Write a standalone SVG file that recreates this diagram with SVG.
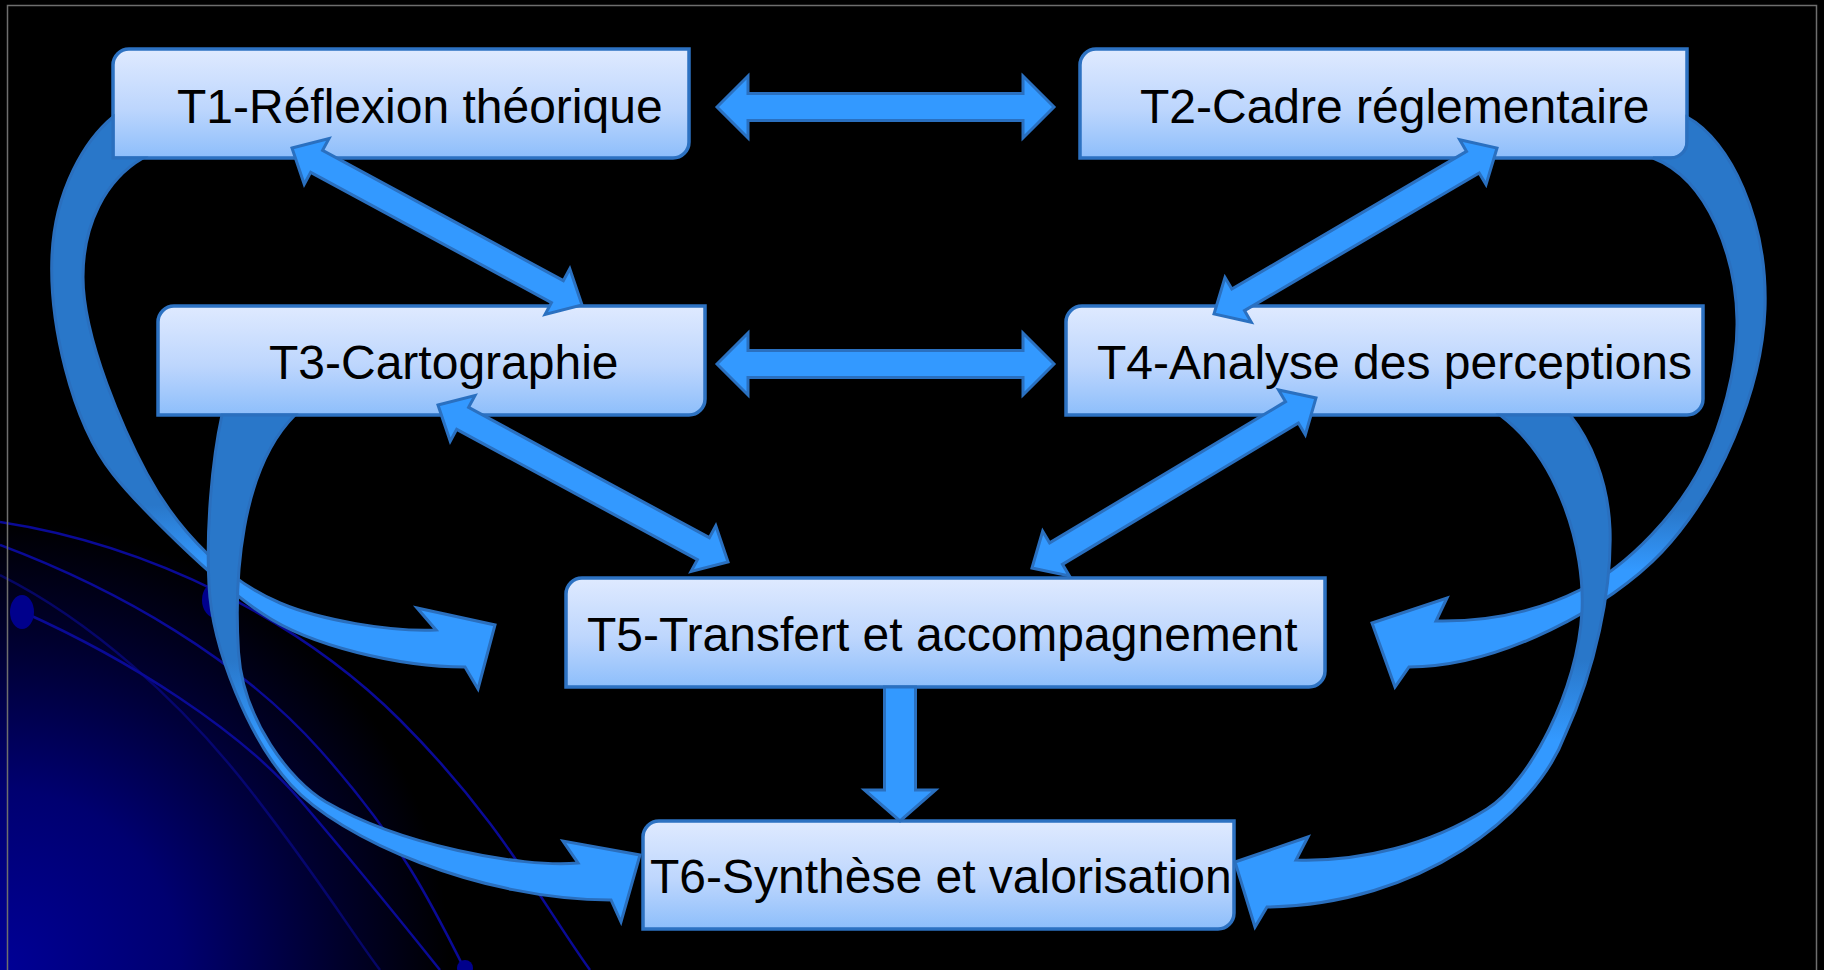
<svg xmlns="http://www.w3.org/2000/svg" width="1824" height="970" viewBox="0 0 1824 970">
  <defs>
    <linearGradient id="boxFill" x1="0" y1="0" x2="0" y2="1">
      <stop offset="0" stop-color="#dfeaff"/>
      <stop offset="0.55" stop-color="#bdd6fd"/>
      <stop offset="1" stop-color="#8dbefb"/>
    </linearGradient>
    <radialGradient id="glow" gradientUnits="userSpaceOnUse" cx="0" cy="970" r="450">
      <stop offset="0" stop-color="#000096"/>
      <stop offset="0.4" stop-color="#000070"/>
      <stop offset="0.75" stop-color="#00002c"/>
      <stop offset="1" stop-color="#000000"/>
    </radialGradient>
    <linearGradient id="gA" gradientUnits="userSpaceOnUse" x1="0" y1="505" x2="0" y2="565">
      <stop offset="0" stop-color="#2977c9"/>
      <stop offset="1" stop-color="#3399ff"/>
    </linearGradient>
    <linearGradient id="gB" gradientUnits="userSpaceOnUse" x1="0" y1="660" x2="0" y2="740">
      <stop offset="0" stop-color="#2977c9"/>
      <stop offset="1" stop-color="#3399ff"/>
    </linearGradient>
    <linearGradient id="gC" gradientUnits="userSpaceOnUse" x1="0" y1="510" x2="0" y2="570">
      <stop offset="0" stop-color="#2977c9"/>
      <stop offset="1" stop-color="#3399ff"/>
    </linearGradient>
    <linearGradient id="gD" gradientUnits="userSpaceOnUse" x1="0" y1="660" x2="0" y2="740">
      <stop offset="0" stop-color="#2977c9"/>
      <stop offset="1" stop-color="#3399ff"/>
    </linearGradient>
  </defs>
  <style>
    .box { fill: url(#boxFill); stroke: #2d72c2; stroke-width: 3.5; }
    .lbl { font-family: "Liberation Sans", Arial, sans-serif; font-size: 48px; fill: #000000; }
    .arr { fill: #3399ff; stroke: #2a70c0; stroke-width: 3; stroke-linejoin: miter; }
    .curve { stroke: #2a6fbe; stroke-width: 3; stroke-linejoin: miter; }
    .deco { fill: none; stroke: #0a0a96; stroke-width: 2.5; }
    .dot { fill: #00008c; }
  </style>

  <g id="background">
    <rect x="0" y="0" width="1824" height="970" fill="#000000"/>
    <rect x="0" y="500" width="480" height="470" fill="url(#glow)"/>
    <path class="deco" d="M0,522 C150,545 300,620 400,720 S540,900 590,970"/>
    <path class="deco" d="M0,545 C120,590 240,660 320,750 S430,900 465,970"/>
    <path class="deco" d="M23,612 C130,660 240,730 300,800 S400,920 440,970"/>
    <path class="deco" stroke-opacity="0.6" d="M0,575 C90,620 180,700 250,790 S350,930 380,970"/>
    <ellipse class="dot" cx="22" cy="612" rx="12" ry="17"/>
    <ellipse class="dot" cx="216" cy="600" rx="14" ry="18"/>
    <circle class="dot" cx="465" cy="968" r="8"/>
    <rect x="7.5" y="5.5" width="1809" height="1000" fill="none" stroke="#6e6e6e" stroke-width="1.5"/>
  </g>

  <g id="T1">
    <path class="box" d="M129,49 H689 V142 A16,16 0 0 1 673,158 H113 V65 A16,16 0 0 1 129,49 Z"/>
    <text class="lbl" x="177" y="123">T1-Réflexion théorique</text>
  </g>
  <g id="T2">
    <path class="box" d="M1096,49 H1687 V142 A16,16 0 0 1 1671,158 H1080 V65 A16,16 0 0 1 1096,49 Z"/>
    <text class="lbl" x="1140" y="123">T2-Cadre réglementaire</text>
  </g>
  <g id="T3">
    <path class="box" d="M174,306 H705 V399 A16,16 0 0 1 689,415 H158 V322 A16,16 0 0 1 174,306 Z"/>
    <text class="lbl" x="269" y="379">T3-Cartographie</text>
  </g>
  <g id="T4">
    <path class="box" d="M1082,306 H1703 V399 A16,16 0 0 1 1687,415 H1066 V322 A16,16 0 0 1 1082,306 Z"/>
    <text class="lbl" x="1097" y="379">T4-Analyse des perceptions</text>
  </g>
  <g id="T5">
    <path class="box" d="M582,578 H1325 V671 A16,16 0 0 1 1309,687 H566 V594 A16,16 0 0 1 582,578 Z"/>
    <text class="lbl" x="587" y="651">T5-Transfert et accompagnement</text>
  </g>
  <g id="T6">
    <path class="box" d="M659,821 H1234 V913 A16,16 0 0 1 1218,929 H643 V837 A16,16 0 0 1 659,821 Z"/>
    <text class="lbl" x="650" y="893">T6-Synthèse et valorisation</text>
  </g>

  <g id="connectors">
    <!-- curved: T1 -> T5 -->
    <path class="curve" fill="url(#gA)" d="M113,117 C85,140 55,190 52,255 C49,320 70,420 113,474 C135,502 215,583 263,614 C310,646 400,667 465,667 L478,689 L495,625 L417,608 L436,630 C390,632 320,620 280,603 C230,582 180,535 147,474 C125,433 83,340 83,277 C83,225 105,180 143,158 L113,158 Z"/>
    <!-- curved: T2 -> T5 -->
    <path class="curve" fill="url(#gC)" d="M1687,117 C1730,140 1768,220 1765,309 C1762,390 1720,490 1662,552 C1610,607 1500,667 1409,667 L1395,687 L1372,623 L1447,598 L1436,621 C1490,622 1540,610 1580,590 C1630,565 1680,510 1703,463 C1720,428 1738,370 1737,320 C1736,260 1710,180 1653,158 L1671,158 A16,16 0 0 0 1687,142 Z"/>
    <!-- curved: T3 -> T6 -->
    <path class="curve" fill="url(#gB)" d="M222,415 C212,460 206,530 209,585 C212,650 250,740 291,785 C340,839 480,900 611,900 L621,922 L640,855 L563,841 L578,863 C520,868 400,845 326,802 C290,781 243,720 238.5,652 C234,580 240,470 295,415 Z"/>
    <!-- curved: T4 -> T6 -->
    <path class="curve" fill="url(#gD)" d="M1570,415 C1590,440 1608,480 1610,529 C1612,590 1595,670 1565,735 C1535,815 1420,905 1267,907 L1255,927 L1235,862 L1308,837 L1296,860 C1360,862 1430,845 1487,809 C1530,782 1578,690 1582,611 C1585,550 1560,460 1500,415 Z"/>

    <!-- straight double arrows -->
    <path class="arr" d="M717,107 L748,76 L748,93.5 L1023,93.5 L1023,76 L1054,107 L1023,138 L1023,120.5 L748,120.5 L748,138 Z"/>
    <path class="arr" d="M717,364 L748,333 L748,350.5 L1023,350.5 L1023,333 L1054,364 L1023,395 L1023,377.5 L748,377.5 L748,395 Z"/>
    <path class="arr" transform="translate(292,148) rotate(28.43)" d="M0,0 L28,-26 L28,-12.5 L301.8,-12.5 L301.8,-26 L329.8,0 L301.8,26 L301.8,12.5 L28,12.5 L28,26 Z"/>
    <path class="arr" transform="translate(438,405) rotate(28.43)" d="M0,0 L28,-26 L28,-12.5 L301.8,-12.5 L301.8,-26 L329.8,0 L301.8,26 L301.8,12.5 L28,12.5 L28,26 Z"/>
    <path class="arr" transform="translate(1214,314) rotate(-30.39)" d="M0,0 L28,-26 L28,-12.5 L300.1,-12.5 L300.1,-26 L328.1,0 L300.1,26 L300.1,12.5 L28,12.5 L28,26 Z"/>
    <path class="arr" transform="translate(1032,568) rotate(-30.91)" d="M0,0 L28,-26 L28,-12.5 L303,-12.5 L303,-26 L331,0 L303,26 L303,12.5 L28,12.5 L28,26 Z"/>
    <!-- T5 -> T6 -->
    <path class="arr" d="M884.5,687 H915.5 V790 H935.5 L900,821 L864.5,790 H884.5 Z"/>
  </g>
</svg>
